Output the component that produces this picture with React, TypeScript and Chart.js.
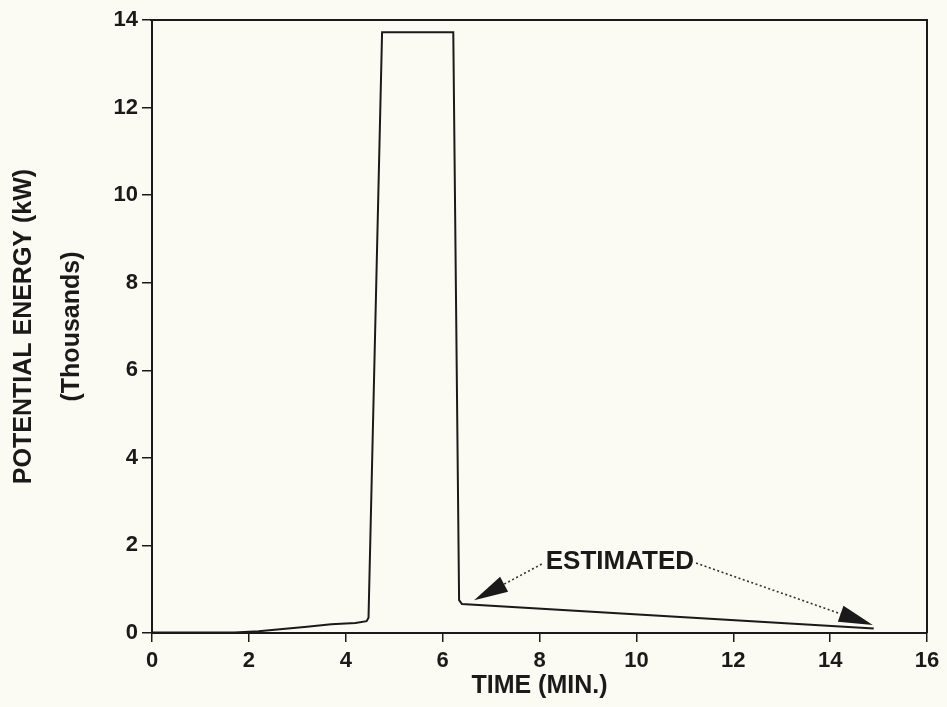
import React, { useEffect, useRef } from "react";
import { Chart, registerables } from "chart.js";

Chart.register(...registerables);

// Time (minutes) and potential energy (thousands of kW)
const timeMin = [0, 1, 1.7, 2.2, 2.7, 3.2, 3.7, 4.2, 4.43, 4.47, 4.75, 6.22, 6.34, 6.4, 14.9];
const energyK = [0.01, 0.01, 0.01, 0.04, 0.09, 0.14, 0.2, 0.23, 0.27, 0.35, 13.72, 13.72, 0.75, 0.66, 0.1];

const xTicks = [0, 2, 4, 6, 8, 10, 12, 14, 16];
const yTicks = [0, 2, 4, 6, 8, 10, 12, 14];

const xTitle = "TIME (MIN.)";
const yTitle = ["POTENTIAL ENERGY (kW)", "(Thousands)"];

// Annotation: label position and arrow tips, in data units
const noteText = "ESTIMATED";
const noteAt = [9.66, 1.62];
const arrowTipsX = [6.65, 14.88];
const arrowTipsY = [0.75, 0.18];

const BG = "#fbfbf3";
const INK = "#1a1a1a";
const FONT = "'Liberation Sans', Arial, sans-serif";

const framePlugin = {
  id: "frame",
  beforeDraw(chart: any) {
    const { ctx } = chart;
    ctx.save();
    ctx.fillStyle = BG;
    ctx.fillRect(0, 0, chart.width, chart.height);
    ctx.restore();
  },
  afterDraw(chart: any) {
    const { ctx, chartArea: a, scales } = chart;
    ctx.save();
    ctx.strokeStyle = INK;
    ctx.lineWidth = 2;
    ctx.beginPath();
    ctx.moveTo(a.left - 2, a.top);
    ctx.lineTo(a.right, a.top);
    ctx.lineTo(a.right, a.bottom);
    ctx.stroke();

    // annotation
    const x = scales.x, y = scales.y;
    const tx = x.getPixelForValue(noteAt[0]);
    const ty = y.getPixelForValue(noteAt[1]);
    ctx.font = `bold 26px ${FONT}`;
    ctx.fillStyle = INK;
    ctx.textAlign = "center";
    ctx.textBaseline = "middle";
    ctx.fillText(noteText, tx, ty);
    const w = ctx.measureText(noteText).width;
    const starts = [
      [tx - w / 2 - 4, ty + 2],
      [tx + w / 2 + 2, ty + 1],
    ];
    for (let i = 0; i < arrowTipsX.length; i++) {
      const px = x.getPixelForValue(arrowTipsX[i]);
      const py = y.getPixelForValue(arrowTipsY[i]);
      const [sx, sy] = starts[i];
      const dx = sx - px, dy = sy - py;
      const len = Math.hypot(dx, dy);
      const ux = dx / len, uy = dy / len;
      const headLen = 34, halfW = 8.5;
      const bx = px + ux * headLen, by = py + uy * headLen;
      ctx.strokeStyle = "#333";
      ctx.lineWidth = 1.6;
      ctx.setLineDash([2, 2.5]);
      ctx.beginPath();
      ctx.moveTo(sx, sy);
      ctx.lineTo(bx, by);
      ctx.stroke();
      ctx.setLineDash([]);
      ctx.fillStyle = INK;
      ctx.beginPath();
      ctx.moveTo(px, py);
      ctx.lineTo(bx - uy * halfW, by + ux * halfW);
      ctx.lineTo(bx + uy * halfW, by - ux * halfW);
      ctx.closePath();
      ctx.fill();
    }
    ctx.restore();
  },
};

export default function App() {
  const ref = useRef<HTMLCanvasElement | null>(null);
  useEffect(() => {
    if (!ref.current) return;
    const chart = new Chart(ref.current, {
      type: "scatter",
      data: {
        datasets: [
          {
            label: "Potential energy",
            data: timeMin.map((t, i) => ({ x: t, y: energyK[i] })),
            showLine: true,
            borderColor: INK,
            borderWidth: 2,
            pointRadius: 0,
            tension: 0,
            fill: false,
          },
        ],
      },
      options: {
        responsive: false,
        animation: false,
        layout: { padding: { top: 20, right: 20, left: 0, bottom: 0 } },
        plugins: { legend: { display: false }, tooltip: { enabled: false } },
        scales: {
          x: {
            type: "linear",
            min: 0,
            max: 16,
            afterFit: (s: any) => { s.height = 74; },
            afterBuildTicks: (s: any) => { s.ticks = xTicks.map((v) => ({ value: v })); },
            ticks: { color: INK, font: { family: FONT, size: 22, weight: "bold" }, padding: 6 },
            grid: { drawOnChartArea: false, color: INK, lineWidth: 1.5, tickLength: 9 },
            border: { color: INK, width: 2 },
            title: {
              display: true,
              text: xTitle,
              color: INK,
              font: { family: FONT, size: 25, weight: "bold" },
              padding: { top: 0, bottom: 6 },
            },
          },
          y: {
            type: "linear",
            min: 0,
            max: 14,
            afterFit: (s: any) => { s.width = 152; },
            afterBuildTicks: (s: any) => { s.ticks = yTicks.map((v) => ({ value: v })); },
            ticks: { color: INK, font: { family: FONT, size: 22, weight: "bold" }, padding: 4 },
            grid: { drawOnChartArea: false, color: INK, lineWidth: 1.5, tickLength: 10 },
            border: { color: INK, width: 2 },
            title: {
              display: true,
              text: yTitle,
              color: INK,
              font: { family: FONT, size: 25, weight: "bold", lineHeight: 1.92 },
              padding: { top: 0, bottom: 0 },
            },
          },
        },
      },
      plugins: [framePlugin],
    });
    return () => chart.destroy();
  }, []);
  return (
    <div style={{ position: "fixed", left: 0, top: 0, width: 947, height: 707, background: BG }}>
      <canvas ref={ref} width={947} height={707} />
    </div>
  );
}
